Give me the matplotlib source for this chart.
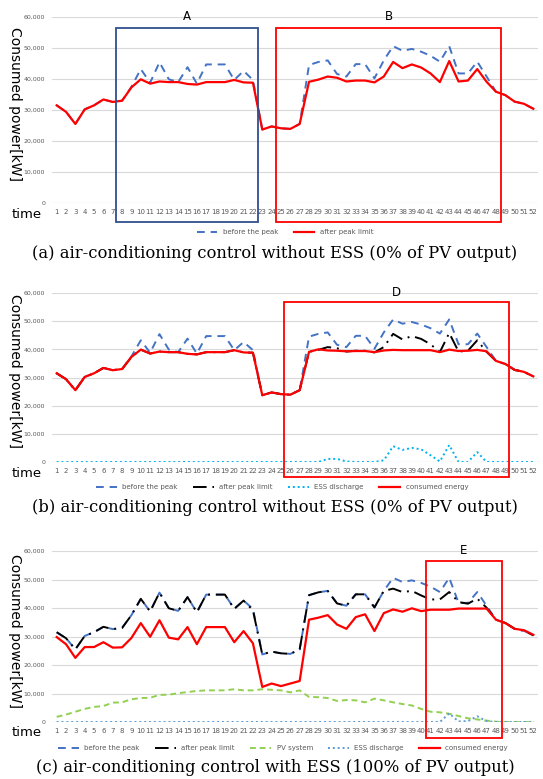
import numpy as np
import matplotlib
matplotlib.use('Agg')
import matplotlib.pyplot as plt
from matplotlib.patches import Rectangle
from matplotlib.ticker import FuncFormatter

# ── Data (kW, 52 time steps) ───────────────────────────────────────────────────
TIME = list(range(1, 53))

BEFORE_PEAK = [31500, 29400, 25500, 30200, 31500, 33400, 32600, 33000, 37500, 43200,
               38800, 45400, 39900, 39000, 43800, 38500, 44700, 44700, 44700, 39700,
               42600, 39700, 23700, 24700, 24100, 23900, 25500, 44500, 45500, 46000,
               41600, 40800, 44800, 44800, 40200, 46000, 50600, 49100, 49700, 48800,
               47500, 45600, 50600, 41800, 41800, 45600, 40800, 35900, 34800, 32700,
               32000, 30400]

AFTER_LIMIT = [31500, 29400, 25500, 30200, 31500, 33400, 32600, 33000, 37300, 39900,
               38500, 39200, 39000, 39000, 38400, 38200, 39000, 39000, 39000, 39700,
               38900, 38800, 23700, 24700, 24100, 23900, 25500, 39100, 39800, 40800,
               40400, 39200, 39500, 39500, 38900, 40800, 45500, 43500, 44700, 43700,
               41800, 39000, 45800, 39200, 39500, 43200, 39100, 35900, 34800, 32700,
               32000, 30400]

CONSUMED_B = [31500, 29400, 25500, 30200, 31500, 33400, 32600, 33000, 37300, 39900,
              38500, 39200, 39000, 39000, 38400, 38200, 39000, 39000, 39000, 39700,
              38900, 38800, 23700, 24700, 24100, 23900, 25500, 39100, 40000, 39600,
              39500, 39300, 39400, 39400, 39000, 39600, 39800, 39700, 39700, 39700,
              39700, 39000, 39900, 39400, 39500, 39800, 39300, 35900, 34800, 32700,
              32000, 30400]

ESS_B = [0, 0, 0, 0, 0, 0, 0, 0, 0, 0, 0, 0, 0, 0, 0, 0, 0, 0, 0, 0, 0, 0, 0, 0, 0, 0,
         0, 0, 0, 1100, 1100, 200, 0, 0, 0, 600, 5600, 4300, 5000, 4500, 2400, 200,
         6000, 0, 0, 3500, 0, 0, 0, 0, 0, 0]

AFTER_LIMIT_C = [31500, 29400, 25500, 30200, 31500, 33400, 32600, 33000, 37500, 43200,
                 38800, 45400, 39900, 39000, 43800, 38500, 44700, 44700, 44700, 39700,
                 42600, 39200, 23700, 24700, 24100, 23900, 25500, 44500, 45500, 46000,
                 41600, 40800, 44800, 44800, 40200, 46000, 46800, 45600, 46000, 44400,
                 43000, 43000, 45600, 42100, 41500, 43300, 40100, 35900, 34800, 32700,
                 32000, 30400]

CONSUMED_C = [29800, 27300, 22500, 26300, 26300, 28000, 26100, 26200, 29500, 34700,
              29900, 35700, 29600, 29000, 33300, 27300, 33300, 33300, 33300, 28000,
              31900, 27600, 12300, 13500, 12600, 13500, 14400, 35900, 36600, 37500,
              34200, 32700, 36800, 37800, 31900, 38200, 39500, 38700, 39900, 38900,
              39400, 39400, 39400, 39800, 39800, 39800, 39800, 35900, 34700, 32700,
              32200, 30600]

PV_C = [1800, 2600, 3600, 4600, 5300, 5600, 6800, 6900, 8000, 8400, 8500, 9500, 9600,
        10100, 10500, 10900, 11100, 11100, 11100, 11500, 11100, 11100, 11500, 11300,
        11100, 10400, 11100, 8800, 8700, 8400, 7400, 7700, 7600, 6900, 8200, 7600, 6900,
        6300, 5800, 4600, 3600, 3400, 2900, 2100, 1300, 900, 500, 100, 0, 0, 0, 0]

ESS_C = [0, 0, 0, 0, 0, 0, 0, 0, 0, 0, 0, 0, 0, 0, 0, 0, 0, 0, 0, 0, 0, 0, 0, 0, 0, 0,
         0, 0, 0, 0, 0, 0, 0, 0, 0, 0, 0, 0, 0, 0, 0, 0, 3000, 200, 300, 2000, 300, 0,
         0, 0, 0, 0]

CAPTIONS = ['(a) air-conditioning control without ESS (0% of PV output)',
            '(b) air-conditioning control without ESS (0% of PV output)',
            '(c) air-conditioning control with ESS (100% of PV output)']

# ── Style ─────────────────────────────────────────────────────────────────────
BLUE = '#4472C4'
RED = '#FF0000'
GREEN = '#92D050'
CYAN = '#00B0F0'
LBLUE = '#5B9BD5'
NAVY = '#2F4F8F'
GREY_TXT = '#595959'

W, H = 543, 779
fig = plt.figure(figsize=(W / 100, H / 100), dpi=100)


def make_axes(top_px, bot_px):
    ax = fig.add_axes([52 / W, 1 - bot_px / H, 486 / W, (bot_px - top_px) / H])
    ax.set_xlim(0.5, 52.5)
    ax.set_ylim(0, 60000)
    ax.set_yticks(range(0, 60001, 10000))
    ax.yaxis.set_major_formatter(FuncFormatter(lambda v, p: f'{int(v):,}'))
    ax.set_xticks(TIME)
    ax.tick_params(axis='x', length=0, labelsize=5, colors=GREY_TXT, pad=4)
    ax.tick_params(axis='y', length=0, labelsize=4.5, colors=GREY_TXT, pad=5)
    ax.grid(axis='y', color='#D9D9D9', lw=0.8)
    ax.set_axisbelow(True)
    for s in ax.spines.values():
        s.set_visible(False)
    ax.axhline(0, color='#D9D9D9', lw=0.8, zorder=0)
    # axis words
    mid = (top_px + bot_px) / 2
    fig.text(15 / W, 1 - (mid - 6) / H, 'Consumed power[kW]', rotation=270,
             ha='center', va='center', fontsize=10)
    fig.text(27 / W, 1 - (bot_px + 11) / H, 'time', ha='center', va='center',
             fontsize=9.5)
    return ax


def box(ax, x0, x1, y0, y1, color, label):
    ax.add_patch(Rectangle((x0, y0), x1 - x0, y1 - y0, fill=False, edgecolor=color,
                           lw=1.3, clip_on=False, zorder=5))
    ax.text((x0 + x1) / 2, 60000, label, ha='center', va='center', fontsize=8.5,
            clip_on=False)


def legend(ax, y_px, x_px):
    ax.legend(loc='center', bbox_to_anchor=(x_px / W, 1 - y_px / H),
              bbox_transform=fig.transFigure, ncol=5, frameon=False, fontsize=5,
              handlelength=3, columnspacing=2.2, labelcolor=GREY_TXT)


def caption(y_px, text):
    fig.text(275 / W, 1 - y_px / H, text, ha='center', va='center',
             fontsize=11.8, family='DejaVu Serif')


# ── (a) ───────────────────────────────────────────────────────────────────────
ax = make_axes(17, 203)
ax.plot(TIME, BEFORE_PEAK, color=BLUE, lw=1.4, ls=(0, (4, 3)), label='before the peak')
ax.plot(TIME, AFTER_LIMIT, color=RED, lw=1.6, label='after peak limit')
box(ax, 7.3, 22.5, -6100, 56500, NAVY, 'A')
box(ax, 24.5, 48.5, -6100, 56500, RED, 'B')
legend(ax, 232, 285)
caption(253, CAPTIONS[0])

# ── (b) ───────────────────────────────────────────────────────────────────────
ax = make_axes(293, 462)
ax.plot(TIME, BEFORE_PEAK, color=BLUE, lw=1.4, ls=(0, (4, 3)), label='before the peak')
ax.plot(TIME, AFTER_LIMIT, color='black', lw=1.4, ls=(0, (7, 3, 1, 3)),
        label='after peak limit')
ax.plot(TIME, ESS_B, color=CYAN, lw=1.4, ls=(0, (1, 1.5)), label='ESS discharge')
ax.plot(TIME, CONSUMED_B, color=RED, lw=1.6, label='consumed energy')
box(ax, 25.3, 49.4, -5300, 56800, RED, 'D')
legend(ax, 487, 282)
caption(507, CAPTIONS[1])

# ── (c) ───────────────────────────────────────────────────────────────────────
ax = make_axes(551, 722)
ax.plot(TIME, BEFORE_PEAK, color=BLUE, lw=1.4, ls=(0, (4, 3)), label='before the peak')
ax.plot(TIME, AFTER_LIMIT_C, color='black', lw=1.4, ls=(0, (7, 3, 1, 3)),
        label='after peak limit')
ax.plot(TIME, PV_C, color=GREEN, lw=1.4, ls=(0, (3, 2)), label='PV system')
ax.plot(TIME, ESS_C, color=LBLUE, lw=1.4, ls=(0, (1, 1.5)), label='ESS discharge')
ax.plot(TIME, CONSUMED_C, color=RED, lw=1.6, label='consumed energy')
box(ax, 40.5, 48.6, -5600, 56500, RED, 'E')
legend(ax, 748, 283)
caption(767, CAPTIONS[2])

fig.savefig('out.png', dpi=100)
